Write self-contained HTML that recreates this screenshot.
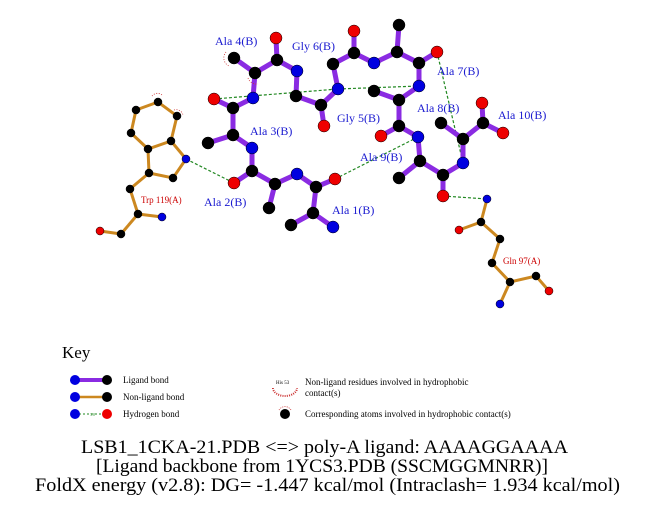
<!DOCTYPE html>
<html><head><style>body{margin:0;background:#fff}svg{display:block}</style></head><body>
<svg width="651" height="511" xmlns="http://www.w3.org/2000/svg" font-family="Liberation Serif, serif">
<rect width="651" height="511" fill="#fff"/>
<g stroke="#228822" stroke-width="1.2" stroke-dasharray="3,2" fill="none">
<line x1="214" y1="99" x2="338" y2="89"/><line x1="338" y1="89" x2="419" y2="86"/>
<line x1="437" y1="52" x2="463" y2="163"/><line x1="335" y1="179" x2="418" y2="137"/>
<line x1="186" y1="159" x2="234" y2="183"/><line x1="443" y1="196" x2="487" y2="199"/>
</g>
<g stroke="#cc8820" stroke-width="3" stroke-linecap="round" fill="none">
<polyline points="136,110 158,102 177,116 171,141 148,149 131,133 136,110"/>
<polyline points="171,141 186,159 173,178 149,173 148,149"/>
<polyline points="149,173 130,189 138,214 162,217"/>
<polyline points="138,214 121,234 100,231"/>
<polyline points="487,199 481,222 459,230"/>
<polyline points="481,222 500,239 492,263 510,282 536,276 549,291"/>
<line x1="510" y1="282" x2="500" y2="304"/>
</g>
<g stroke="#8a2be2" stroke-width="5" stroke-linecap="round" fill="none">
<polyline points="234,58 255,73 277,60 276,38"/><polyline points="277,60 297,71 296,96 321,105 324,126"/>
<polyline points="255,73 253,98 233,108 214,99"/><polyline points="233,108 233,135 208,143"/>
<polyline points="233,135 252,148 252,171 234,183"/><polyline points="252,171 275,184 269,208"/>
<polyline points="275,184 297,174 316,187 335,179"/><polyline points="316,187 313,213 291,225"/>
<line x1="313" y1="213" x2="333" y2="227"/>
<polyline points="321,105 338,89 333,64 354,53 354,31"/><polyline points="354,53 374,63 397,52 399,25"/>
<polyline points="397,52 419,63 437,52"/><polyline points="419,63 419,86 399,100 374,91"/>
<polyline points="399,100 399,126 381,136"/><polyline points="399,126 418,137 420,161 399,178"/>
<polyline points="420,161 443,175 443,196"/><polyline points="443,175 463,163 463,139 441,123"/>
<polyline points="463,139 483,123 482,103"/><line x1="483" y1="123" x2="503" y2="133"/>
</g>
<g stroke="#c33" stroke-width="0.8" fill="none">
<path d="M226,52 a9,9 0 0,0 3,14" stroke-dasharray="1,1.5"/>
<path d="M248,78 a9,9 0 0,0 10,6" stroke-dasharray="1,1.5"/>
<path d="M152,96 a7,7 0 0,1 11,0" stroke-dasharray="1,1.5"/>
<path d="M174,110 a7,7 0 0,1 9,5" stroke-dasharray="1,1.5"/>
</g>
<g stroke="#000" stroke-width="0.5">
<g fill="#000">
<circle cx="234" cy="58" r="6"/><circle cx="255" cy="73" r="6"/><circle cx="277" cy="60" r="6"/>
<circle cx="233" cy="108" r="6"/><circle cx="233" cy="135" r="6"/><circle cx="208" cy="143" r="6"/>
<circle cx="252" cy="171" r="6"/><circle cx="275" cy="184" r="6"/><circle cx="269" cy="208" r="6"/>
<circle cx="316" cy="187" r="6"/><circle cx="313" cy="213" r="6"/><circle cx="291" cy="225" r="6"/>
<circle cx="296" cy="96" r="6"/><circle cx="321" cy="105" r="6"/><circle cx="333" cy="64" r="6"/>
<circle cx="354" cy="53" r="6"/><circle cx="397" cy="52" r="6"/><circle cx="399" cy="25" r="6"/>
<circle cx="419" cy="63" r="6"/><circle cx="399" cy="100" r="6"/><circle cx="374" cy="91" r="6"/>
<circle cx="399" cy="126" r="6"/><circle cx="420" cy="161" r="6"/><circle cx="399" cy="178" r="6"/>
<circle cx="443" cy="175" r="6"/><circle cx="463" cy="139" r="6"/><circle cx="441" cy="123" r="6"/>
<circle cx="483" cy="123" r="6"/>
<circle cx="136" cy="110" r="4"/><circle cx="158" cy="102" r="4"/><circle cx="177" cy="116" r="4"/>
<circle cx="171" cy="141" r="4"/><circle cx="148" cy="149" r="4"/><circle cx="131" cy="133" r="4"/>
<circle cx="173" cy="178" r="4"/><circle cx="149" cy="173" r="4"/><circle cx="130" cy="189" r="4"/>
<circle cx="138" cy="214" r="4"/><circle cx="121" cy="234" r="4"/>
<circle cx="481" cy="222" r="4"/><circle cx="500" cy="239" r="4"/><circle cx="492" cy="263" r="4"/>
<circle cx="510" cy="282" r="4"/><circle cx="536" cy="276" r="4"/>
</g>
<g fill="#e00">
<circle cx="276" cy="38" r="6"/><circle cx="214" cy="99" r="6"/><circle cx="234" cy="183" r="6"/>
<circle cx="335" cy="179" r="6"/><circle cx="324" cy="126" r="6"/><circle cx="354" cy="31" r="6"/>
<circle cx="437" cy="52" r="6"/><circle cx="381" cy="136" r="6"/><circle cx="443" cy="196" r="6"/>
<circle cx="482" cy="103" r="6"/><circle cx="503" cy="133" r="6"/>
<circle cx="100" cy="231" r="4"/><circle cx="459" cy="230" r="4"/><circle cx="549" cy="291" r="4"/>
</g>
<g fill="#0000e0">
<circle cx="297" cy="71" r="6"/><circle cx="253" cy="98" r="6"/><circle cx="252" cy="148" r="6"/>
<circle cx="297" cy="174" r="6"/><circle cx="333" cy="227" r="6"/><circle cx="338" cy="89" r="6"/>
<circle cx="374" cy="63" r="6"/><circle cx="419" cy="86" r="6"/><circle cx="418" cy="137" r="6"/>
<circle cx="463" cy="163" r="6"/>
<circle cx="186" cy="159" r="4"/><circle cx="162" cy="217" r="4"/><circle cx="487" cy="199" r="4"/><circle cx="500" cy="304" r="4"/>
</g>
</g>
<g fill="#1a1ad0" font-size="12">
<text x="215" y="45">Ala 4(B)</text><text x="292" y="50">Gly 6(B)</text>
<text x="437" y="75">Ala 7(B)</text><text x="417" y="112">Ala 8(B)</text>
<text x="498" y="119">Ala 10(B)</text><text x="337" y="122">Gly 5(B)</text>
<text x="250" y="135">Ala 3(B)</text><text x="360" y="161">Ala 9(B)</text>
<text x="204" y="206">Ala 2(B)</text><text x="332" y="214">Ala 1(B)</text>
</g>
<g fill="#c00" font-size="9">
<text x="141" y="203">Trp 119(A)</text><text x="503" y="264">Gln 97(A)</text>
</g>
<text x="62" y="358" font-size="17">Key</text>
<line x1="75" y1="380" x2="107" y2="380" stroke="#8a2be2" stroke-width="4"/>
<circle cx="75" cy="380" r="5" fill="#0000e0"/><circle cx="107" cy="380" r="5" fill="#000"/>
<line x1="75" y1="397" x2="107" y2="397" stroke="#cc8820" stroke-width="2.5"/>
<circle cx="75" cy="397" r="5" fill="#0000e0"/><circle cx="107" cy="397" r="5" fill="#000"/>
<line x1="75" y1="414" x2="107" y2="414" stroke="#228822" stroke-width="1" stroke-dasharray="2,2"/>
<circle cx="75" cy="414" r="5" fill="#0000e0"/><circle cx="107" cy="414" r="5" fill="#e00"/>
<text x="90" y="416" font-size="4" fill="#228822">3.0</text>
<g font-size="9"><text x="123" y="383">Ligand bond</text><text x="123" y="400">Non-ligand bond</text><text x="123" y="417">Hydrogen bond</text>
<text x="305" y="385">Non-ligand residues involved in hydrophobic</text><text x="305" y="396">contact(s)</text>
<text x="305" y="417">Corresponding atoms involved in hydrophobic contact(s)</text></g>
<text x="276" y="384" font-size="5">His 53</text>
<path d="M273,388 a12,8 0 0,0 24,0" stroke="#c33" stroke-width="2" stroke-dasharray="1,1.2" fill="none"/>
<circle cx="285" cy="414" r="5" fill="#000"/>
<path d="M279,410 a7,7 0 0,1 12,0" stroke="#c33" stroke-width="0.8" stroke-dasharray="1,1.2" fill="none"/>
<g font-size="19">
<text x="81" y="453" textLength="487" lengthAdjust="spacingAndGlyphs">LSB1_1CKA-21.PDB &lt;=&gt; poly-A ligand: AAAAGGAAAA</text>
<text x="96" y="472" textLength="452" lengthAdjust="spacingAndGlyphs">[Ligand backbone from 1YCS3.PDB (SSCMGGMNRR)]</text>
<text x="35" y="491" textLength="585" lengthAdjust="spacingAndGlyphs">FoldX energy (v2.8): DG= -1.447 kcal/mol (Intraclash= 1.934 kcal/mol)</text>
</g>
</svg>
</body></html>
